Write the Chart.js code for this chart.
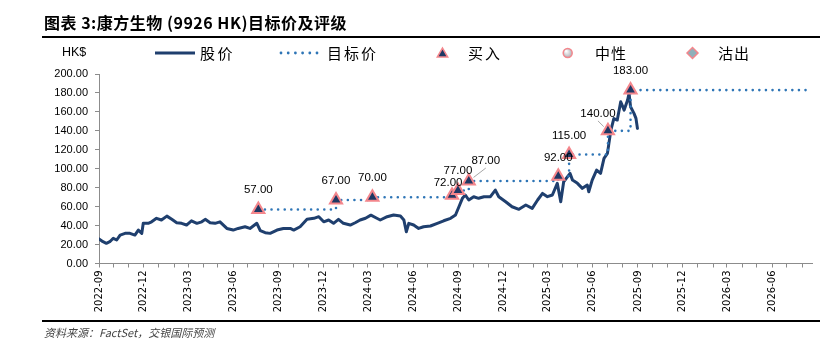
<!DOCTYPE html>
<html>
<head>
<meta charset="utf-8">
<script src="https://cdn.jsdelivr.net/npm/chart.js@4.4.1/dist/chart.umd.min.js"></script>
<style>
  html, body { margin: 0; padding: 0; background: #fff; }
  #wrap { position: relative; width: 838px; height: 350px; overflow: hidden; }
  #title { position: absolute; left: 44px; top: 10px; line-height: 24px; font: bold 16px "Noto Sans CJK SC"; letter-spacing: 0.5px; color: #000; white-space: nowrap; }
  .rule { position: absolute; left: 42px; width: 778px; height: 2px; background: #000; }
  #footer { position: absolute; left: 44px; top: 324px; font: italic 11px "Noto Sans CJK SC"; color: #444; white-space: nowrap; }
  #chartBox { position: absolute; left: 0; top: 0; width: 838px; height: 350px; }
</style>
</head>
<body>
<div id="wrap">
  <div id="chartBox"><canvas id="chart"></canvas></div>
  <div id="title">图表 3:康方生物 (9926 HK)目标价及评级</div>
  <div class="rule" style="top:36px"></div>
  <div class="rule" style="top:320px"></div>
  <div id="footer">资料来源：FactSet，交银国际预测</div>
</div>
<script>
// share price, HK$
const priceDates = [
  '2022-09-01','2022-09-09','2022-09-16','2022-09-23','2022-09-30','2022-10-07','2022-10-14','2022-10-24',
  '2022-11-03','2022-11-13','2022-11-20','2022-11-27','2022-11-30','2022-12-10','2022-12-17','2022-12-27',
  '2023-01-06','2023-01-17','2023-01-27','2023-02-06','2023-02-16','2023-02-26','2023-03-08','2023-03-19',
  '2023-03-29','2023-04-05','2023-04-15','2023-04-25','2023-05-05','2023-05-19','2023-06-01','2023-06-11',
  '2023-06-25','2023-07-05','2023-07-19','2023-07-26','2023-08-05','2023-08-15','2023-08-29','2023-09-11',
  '2023-09-25','2023-10-02','2023-10-15','2023-10-29','2023-11-12','2023-11-22','2023-12-02','2023-12-12',
  '2023-12-22','2024-01-01','2024-01-11','2024-01-25','2024-02-04','2024-02-14','2024-02-25','2024-03-07',
  '2024-03-19','2024-03-26','2024-04-09','2024-04-22','2024-05-06','2024-05-13','2024-05-18','2024-05-23',
  '2024-06-02','2024-06-12','2024-06-22','2024-07-06','2024-07-20','2024-08-02','2024-08-16','2024-08-26',
  '2024-09-02','2024-09-09','2024-09-15','2024-09-22','2024-10-02','2024-10-12','2024-10-23','2024-11-05',
  '2024-11-15','2024-11-22','2024-12-06','2024-12-19','2025-01-02','2025-01-16','2025-01-29','2025-02-09',
  '2025-02-19','2025-03-01','2025-03-11','2025-03-21','2025-03-28','2025-04-03','2025-04-16','2025-04-21',
  '2025-05-01','2025-05-11','2025-05-21','2025-05-24','2025-05-31','2025-06-09','2025-06-17','2025-06-24',
  '2025-07-01','2025-07-08','2025-07-14','2025-07-21','2025-07-28','2025-08-04','2025-08-11','2025-08-14',
  '2025-08-17','2025-08-24','2025-08-28','2025-08-31'
];
const priceValues = [
  26, 23, 21.3, 23, 26.6, 24.8, 30, 31.8,
  31.8, 30, 35.3, 31.8, 42.4, 42.4, 44, 47.7,
  45.9, 50, 46.6, 43, 42.4, 40.6, 45, 42.4,
  44, 46.6, 43, 42.4, 44, 37, 35.3, 37,
  38.8, 37, 42.4, 34.6, 32.5, 31.8, 35.3, 37,
  37, 35.3, 38.8, 46.6, 47.7, 49.4, 44, 45.9,
  42.4, 46.6, 42.4, 40.6, 43, 45.9, 47.8, 51,
  47.8, 45.9, 49.4, 51.2, 50.1, 45.9, 33.5, 42.4,
  40.6, 37, 38.8, 39.6, 42.4, 45.1, 47.7, 51.2,
  59.9, 68.8, 72.3, 67, 70.5, 68.8, 70.5, 70.5,
  77.5, 70.5, 65.2, 59.9, 57.2, 61.7, 58.2, 67,
  74, 70.5, 72.3, 84.6, 65.2, 86.3, 95.1, 88,
  84.6, 79.3, 82.8, 75.7, 88, 98.6, 95.1, 111,
  116.2, 140.8, 153, 151.4, 170.7, 161.9, 172.5, 179.5,
  165.4, 158.4, 153.2, 142.6
];

// rating changes
const ratingDates = ['2023-07-22','2023-12-27','2024-03-10','2024-08-19','2024-08-31','2024-09-22','2025-03-23','2025-04-14','2025-07-02','2025-08-17'];
const targetPrices = [57, 67, 70, 72, 77, 87, 92, 115, 140, 183];
const ratings = ['买入','买入','买入','买入','买入','买入','买入','买入','买入','买入'];
const targetEndDate = '2026-08-09';

const tickLabels = ['2022-09','2022-12','2023-03','2023-06','2023-09','2023-12','2024-03','2024-06',
  '2024-09','2024-12','2025-03','2025-06','2025-09','2025-12','2026-03','2026-06'];
const axisStart = '2022-09-01';
const axisEnd = '2026-08-21';

function dayOf(s) {
  const p = s.split('-').map(Number);
  return (Date.UTC(p[0], p[1] - 1, p[2] || 1) - Date.UTC(2022, 8, 1)) / 864e5;
}

const xMax = dayOf(axisEnd);
const monthTicks = [];
for (let y = 2022, m = 9; ; m++) {
  if (m > 12) { m = 1; y++; }
  const d = dayOf(y + '-' + m + '-1');
  if (d > xMax) break;
  monthTicks.push(d);
}
const labelAt = {};
tickLabels.forEach(t => { labelAt[dayOf(t + '-01')] = t; });

const priceData = priceDates.map((d, i) => ({ x: dayOf(d), y: priceValues[i] }));
const ratingData = ratingDates.map((d, i) => ({ x: dayOf(d), y: targetPrices[i] }));
const targetData = ratingData.concat([{ x: dayOf(targetEndDate), y: targetPrices[targetPrices.length - 1] }]);

const NAVY = '#1f3f6e';
const BLUE = '#2e75b6';
const PINK = '#f4868c';
const TRI_FILL = '#1f3864';

// value labels next to the triangles
const labelOffsets = [[0,-20],[0,-19],[0,-19],[-4,-12],[0,-20],[17,-20,1],[0,-19],[0,-19],[-10,-17,1],[0,-19]];
const valueLabels = {
  id: 'valueLabels',
  afterDatasetsDraw(chart) {
    const meta = chart.getDatasetMeta(2);
    const ctx = chart.ctx;
    ctx.save();
    ctx.font = '11.5px "Liberation Sans"';
    ctx.fillStyle = '#000';
    ctx.textAlign = 'center';
    ctx.textBaseline = 'middle';
    meta.data.forEach((pt, i) => {
      const o = labelOffsets[i];
      const lx = pt.x + o[0], ly = pt.y + o[1];
      if (o[2]) {
        const sx = lx, sy = ly + 7;
        const dx = sx - pt.x, dy = sy - pt.y, len = Math.hypot(dx, dy);
        ctx.strokeStyle = '#a6a6a6';
        ctx.lineWidth = 1;
        ctx.beginPath();
        ctx.moveTo(sx, sy);
        ctx.lineTo(pt.x + dx / len * 6, pt.y + dy / len * 6);
        ctx.stroke();
      }
      ctx.fillText(targetPrices[i].toFixed(2), lx, ly);
    });
    ctx.restore();
  }
};

// legend row
function spaced(ctx, txt, x, y, adv) {
  [...txt].forEach((c, i) => ctx.fillText(c, x + i * adv, y));
}
const legendRow = {
  id: 'legendRow',
  afterDraw(chart) {
    const ctx = chart.ctx;
    const y = 53;
    ctx.save();
    ctx.fillStyle = '#000';
    ctx.textBaseline = 'middle';
    ctx.font = '12.5px "Liberation Sans"';
    ctx.fillText('HK$', 62, y);

    ctx.strokeStyle = NAVY;
    ctx.lineWidth = 3;
    ctx.beginPath(); ctx.moveTo(155, y); ctx.lineTo(195, y); ctx.stroke();

    ctx.fillStyle = BLUE;
    for (let i = 0; i < 6; i++) { ctx.beginPath(); ctx.arc(281 + i * 7.2, y, 1.4, 0, Math.PI * 2); ctx.fill(); }

    ctx.lineWidth = 1.5;
    ctx.strokeStyle = PINK;
    ctx.fillStyle = TRI_FILL;
    Chart.helpers.drawPoint(ctx, { pointStyle: 'triangle', radius: 6, rotation: 0, borderWidth: 1.5 }, 442.5, 54);

    const g = ctx.createRadialGradient(566, 51, 0.5, 567.7, 53, 5);
    g.addColorStop(0, '#ffffff'); g.addColorStop(1, '#a9a9b0');
    ctx.fillStyle = g;
    Chart.helpers.drawPoint(ctx, { pointStyle: 'circle', radius: 4.5, rotation: 0, borderWidth: 1.5 }, 567.7, 53);

    ctx.fillStyle = '#8fb0ba';
    Chart.helpers.drawPoint(ctx, { pointStyle: 'rectRot', radius: 5.5, rotation: 0, borderWidth: 1.5 }, 692.5, 53);

    ctx.fillStyle = '#000';
    ctx.font = '15px "Noto Sans CJK SC"';
    spaced(ctx, '股价', 200, y, 17.5);
    spaced(ctx, '目标价', 327, y, 17);
    spaced(ctx, '买入', 468, y, 17);
    spaced(ctx, '中性', 595, y, 16);
    spaced(ctx, '沽出', 718, y, 16);
    ctx.restore();
  }
};

new Chart(document.getElementById('chart'), {
  data: {
    datasets: [
      {
        type: 'line', label: '股价', data: priceData, order: 2,
        borderColor: NAVY, borderWidth: 3, pointRadius: 0, tension: 0,
        borderJoinStyle: 'round', borderCapStyle: 'round'
      },
      {
        type: 'line', label: '目标价', data: targetData, order: 1, stepped: true,
        borderColor: BLUE, borderWidth: 2.6, borderDash: [0, 6.6], borderCapStyle: 'round',
        pointRadius: 0
      },
      {
        type: 'scatter', label: '买入', data: ratingData, order: 0, clip: false,
        pointStyle: 'triangle', pointRadius: 7, pointBackgroundColor: TRI_FILL,
        pointBorderColor: PINK, pointBorderWidth: 2
      }
    ]
  },
  options: {
    responsive: true,
    maintainAspectRatio: false,
    animation: false,
    events: [],
    layout: { padding: { top: 74, left: 0, right: 26, bottom: 0 } },
    plugins: { legend: { display: false }, tooltip: { enabled: false } },
    scales: {
      x: {
        type: 'linear', min: 0, max: xMax,
        afterBuildTicks: s => { s.ticks = monthTicks.map(v => ({ value: v })); },
        afterFit: s => { s.height = 86.5; },
        border: { color: '#8c8c8c', width: 1 },
        grid: { drawOnChartArea: false, drawTicks: true, tickLength: 4, color: '#8c8c8c' },
        ticks: {
          autoSkip: false, minRotation: 90, maxRotation: 90, padding: 3,
          color: '#000', font: { family: 'DejaVu Sans', size: 10 },
          callback: v => labelAt[v] || ''
        }
      },
      y: {
        min: 0, max: 200,
        afterFit: s => { s.width = 99; },
        border: { color: '#8c8c8c', width: 1 },
        grid: { drawOnChartArea: false, drawTicks: true, tickLength: 4, color: '#8c8c8c' },
        ticks: {
          stepSize: 20, padding: 7, color: '#000',
          font: { family: 'Liberation Sans', size: 11 },
          callback: v => v.toFixed(2)
        }
      }
    }
  },
  plugins: [valueLabels, legendRow]
});
</script>
</body>
</html>
